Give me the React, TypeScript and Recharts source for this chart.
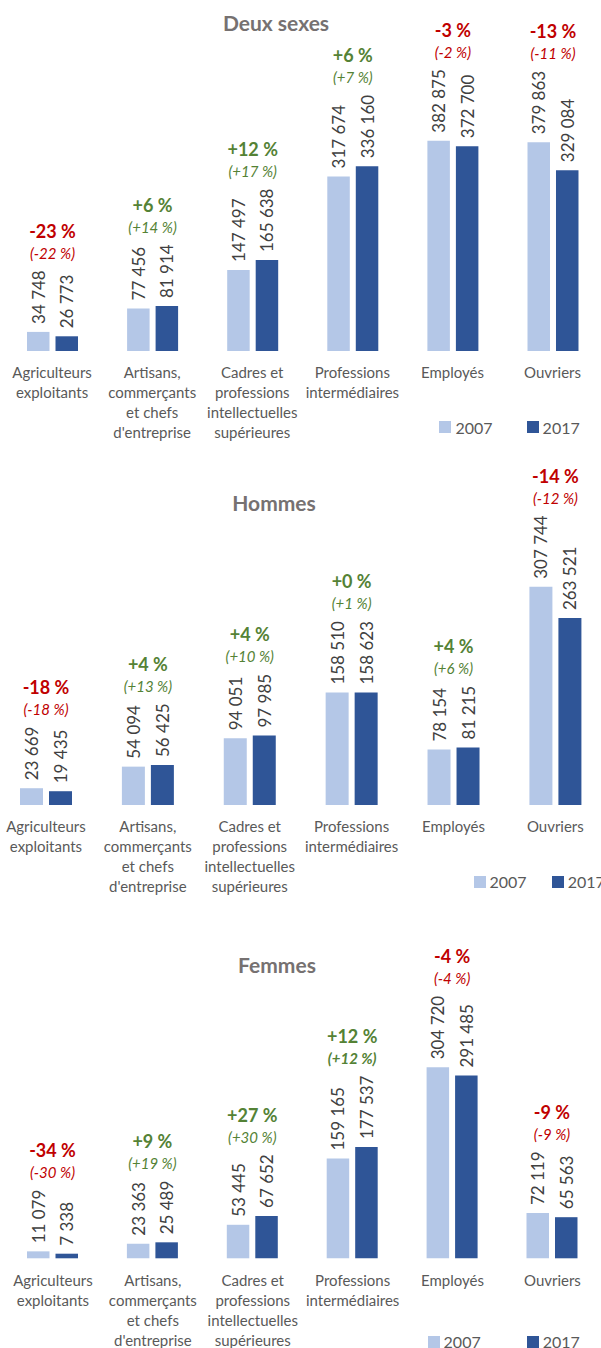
import { BarChart, Bar, XAxis, YAxis, LabelList, Legend } from 'recharts'

const categories = [
  'Agriculteurs\nexploitants',
  "Artisans,\ncommerçants\net chefs\nd'entreprise",
  'Cadres et\nprofessions\nintellectuelles\nsupérieures',
  'Professions\nintermédiaires',
  'Employés',
  'Ouvriers',
]

const both2007 = [34748, 77456, 147497, 317674, 382875, 379863]
const both2017 = [26773, 81914, 165638, 336160, 372700, 329084]
const bothPct = ['-23 %', '+6 %', '+12 %', '+6 %', '-3 %', '-13 %']
const bothPctAlt = ['(-22 %)', '(+14 %)', '(+17 %)', '(+7 %)', '(-2 %)', '(-11 %)']

const men2007 = [23669, 54094, 94051, 158510, 78154, 307744]
const men2017 = [19435, 56425, 97985, 158623, 81215, 263521]
const menPct = ['-18 %', '+4 %', '+4 %', '+0 %', '+4 %', '-14 %']
const menPctAlt = ['(-18 %)', '(+13 %)', '(+10 %)', '(+1 %)', '(+6 %)', '(-12 %)']

const women2007 = [11079, 23363, 53445, 159165, 304720, 72119]
const women2017 = [7338, 25489, 67652, 177537, 291485, 65563]
const womenPct = ['-34 %', '+9 %', '+27 %', '+12 %', '-4 %', '-9 %']
const womenPctAlt = ['(-30 %)', '(+19 %)', '(+30 %)', '(+12 %)', '(-4 %)', '(-9 %)']

const LIGHT = '#B4C7E7'
const DARK = '#2F5597'
const RED = '#C00000'
const GREEN = '#548235'
const FONT = 'Lato, "Open Sans", sans-serif'
const VALUE_FONT_SIZE = 17
const GAP = 8

let ctx: CanvasRenderingContext2D | null = null
function textWidth(s: string, font: string) {
  if (!ctx) ctx = document.createElement('canvas').getContext('2d')
  if (!ctx) return s.length * 9
  ctx.font = font
  return ctx.measureText(s).width
}

const fmt = (v: number) => String(v).replace(/\B(?=(\d{3})+(?!\d))/g, ' ')

interface PanelCfg {
  title: string
  v2007: number[]; v2017: number[]; pct: string[]; pctAlt: string[]
  boldAlt: number[]
  top: number; left: number; width: number; height: number
  baseline: number; max: number; unitsPerPx: number
  barSize: number; barGap: number
  titleX: number; titleY: number
  legendX: number; legendY: number; legendGap: number
}

const panels: PanelCfg[] = [
  {
    title: 'Deux sexes', v2007: both2007, v2017: both2017, pct: bothPct, pctAlt: bothPctAlt, boldAlt: [],
    top: 0, left: 1.6, width: 600.6, height: 450, baseline: 351, max: 600000, unitsPerPx: 1820,
    barSize: 22.5, barGap: 6, titleX: 276, titleY: 23,
    legendX: 439.5, legendY: 427.3, legendGap: 34,
  },
  {
    title: 'Hommes', v2007: men2007, v2017: men2017, pct: menPct, pctAlt: menPctAlt, boldAlt: [],
    top: 455, left: -5.3, width: 611.3, height: 450, baseline: 350, max: 450000, unitsPerPx: 1410,
    barSize: 23, barGap: 6, titleX: 274, titleY: 503,
    legendX: 473.5, legendY: 881.7, legendGap: 25,
  },
  {
    title: 'Femmes', v2007: women2007, v2017: women2017, pct: womenPct, pctAlt: womenPctAlt, boldAlt: [3],
    top: 905, left: 3.2, width: 599.4, height: 443, baseline: 353.3, max: 500000, unitsPerPx: 1595,
    barSize: 22.5, barGap: 6, titleX: 277, titleY: 965,
    legendX: 427.6, legendY: 1341.7, legendGap: 46,
  },
]

function box(props: any) {
  const vb = props.viewBox ?? {}
  return {
    x: Number(props.x ?? vb.x), y: Number(props.y ?? vb.y),
    width: Number(props.width ?? vb.width), height: Number(props.height ?? vb.height),
  }
}

function ValueLabel(props: any) {
  const { x, y, width } = box(props)
  const cx = x + width / 2
  const ty = y - GAP
  return (
    <text x={cx} y={ty} transform={`rotate(-90 ${cx} ${ty})`} textAnchor="start"
      dominantBaseline="central" fill="#404040" fontFamily={FONT} fontSize={VALUE_FONT_SIZE}>
      {fmt(Number(props.value))}
    </text>
  )
}

function makePctLabel(cfg: PanelCfg) {
  return (props: any) => {
    const { x, y, width, height } = box(props)
    const i = Number(props.value)
    const base = y + height
    const pxPerUnit = height / cfg.v2007[i]
    const y17 = base - cfg.v2017[i] * pxPerUnit
    const font = `${VALUE_FONT_SIZE}px Lato`
    const top = Math.min(
      y - GAP - textWidth(fmt(cfg.v2007[i]), font),
      y17 - GAP - textWidth(fmt(cfg.v2017[i]), font),
    )
    const cx = x + width + cfg.barGap / 2
    const color = cfg.pct[i].startsWith('-') ? RED : GREEN
    return (
      <g>
        <text x={cx} y={top - 39.5} textAnchor="middle" dominantBaseline="central"
          fill={color} fontFamily={FONT} fontSize={18} fontWeight="bold">{cfg.pct[i]}</text>
        <text x={cx} y={top - 17.5} textAnchor="middle" dominantBaseline="central"
          fill={color} fontFamily={FONT} fontSize={15} fontStyle="italic"
          fontWeight={cfg.boldAlt.includes(i) ? 'bold' : 'normal'}>{cfg.pctAlt[i]}</text>
      </g>
    )
  }
}

function CatTick(props: any) {
  const { x, y, payload } = props
  const lines = String(payload.value).split('\n')
  return (
    <text x={x} y={y} textAnchor="middle" dominantBaseline="central" fill="#595959"
      fontFamily={FONT} fontSize={15}>
      {lines.map((l, i) => (
        <tspan key={i} x={x} y={y + 21.5 + i * 20}>{l}</tspan>
      ))}
    </text>
  )
}

function makeLegend(gap: number) {
  return (props: any) => {
    const items = (props.payload ?? []) as any[]
    return (
      <div style={{ display: 'flex', alignItems: 'center', height: 20, fontFamily: FONT, fontSize: 16, color: '#595959', whiteSpace: 'nowrap' }}>
        {items.map((it, k) => (
          <span key={k} style={{ display: 'flex', alignItems: 'center', marginLeft: k ? gap : 0 }}>
            <span style={{ display: 'inline-block', width: 12, height: 12, background: it.color, marginRight: 4 }} />
            {it.value}
          </span>
        ))}
      </div>
    )
  }
}

function Panel({ cfg }: { cfg: PanelCfg }) {
  const rows = categories.map((cat, idx) => ({ cat, idx, y2007: cfg.v2007[idx], y2017: cfg.v2017[idx] }))
  const plotH = cfg.max / cfg.unitsPerPx
  const marginTop = cfg.baseline - plotH
  const xh = cfg.height - cfg.baseline
  return (
    <>
      <div style={{
        position: 'absolute', left: cfg.titleX - 150, top: cfg.titleY - 13, width: 300, height: 26,
        lineHeight: '26px', textAlign: 'center', fontFamily: FONT, fontSize: 21, fontWeight: 'bold', color: '#767171',
      }}>{cfg.title}</div>
      <div style={{ position: 'absolute', left: cfg.left, top: cfg.top }}>
        <BarChart width={cfg.width} height={cfg.height} data={rows}
          margin={{ top: marginTop, right: 0, left: 0, bottom: 0 }} barGap={cfg.barGap}>
          <XAxis dataKey="cat" axisLine={false} tickLine={false} tickSize={0} tickMargin={0}
            interval={0} height={xh} tick={(p: any) => <CatTick {...p} />} />
          <YAxis hide domain={[0, cfg.max]} />
          <Legend layout="vertical" align="center" verticalAlign="middle"
            content={makeLegend(cfg.legendGap)}
            wrapperStyle={{ left: cfg.legendX - cfg.left, top: cfg.legendY - cfg.top - 10, right: 'auto', bottom: 'auto', width: 'auto' }} />
          <Bar dataKey="y2007" name="2007" fill={LIGHT} barSize={cfg.barSize} isAnimationActive={false}>
            <LabelList dataKey="y2007" content={ValueLabel} />
            <LabelList dataKey="idx" content={makePctLabel(cfg)} />
          </Bar>
          <Bar dataKey="y2017" name="2017" fill={DARK} barSize={cfg.barSize} isAnimationActive={false}>
            <LabelList dataKey="y2017" content={ValueLabel} />
          </Bar>
        </BarChart>
      </div>
    </>
  )
}

export default function App() {
  return (
    <div style={{ position: 'absolute', left: 0, top: 0, width: 601, height: 1348, overflow: 'hidden', background: '#fff' }}>
      {panels.map(p => <Panel key={p.title} cfg={p} />)}
    </div>
  )
}
